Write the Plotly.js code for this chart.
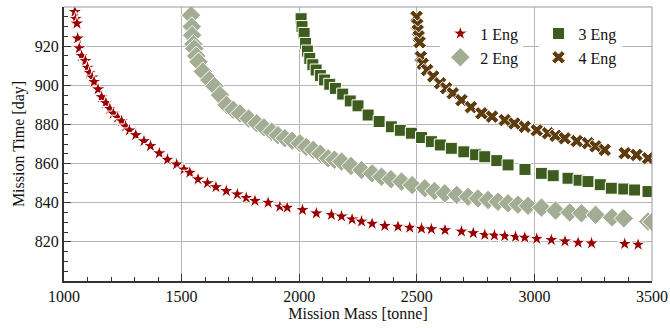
<!DOCTYPE html>
<html><head><meta charset="utf-8">
<script src="https://cdn.plot.ly/plotly-3.0.1.min.js"></script>
<style>html,body{margin:0;padding:0;background:#fff}#c{width:670px;height:328px}</style>
</head><body><div id="c"></div>
<script>
const seriesNames = ["1 Eng", "2 Eng", "3 Eng", "4 Eng"];

const eng1Mass = [1046,1050,1055,1058,1065,1075,1091,1100,1109,1120,1128,1145,1160,1178,1195,1210,1228,1245,1262,1278,1305,1340,1368,1405,1440,1479,1510,1535,1570,1610,1646,1690,1737,1775,1812,1868,1918,1949,2014,2073,2137,2180,2225,2265,2310,2364,2420,2470,2520,2562,2620,2690,2740,2789,2830,2874,2920,2959,3010,3072,3130,3186,3243,3384,3441];
const eng1Time = [937.5,934,931.6,924,919,915,912.5,909,906.4,904,901.8,898,894,891,888,885.6,883.5,881.7,879,877,874.6,871.5,869,865.3,862,859.6,857,855.4,852,850,848,846,844.3,842.5,841,840,838,837.5,836.3,834.6,833.8,833,831.5,830.4,829.3,828.2,827.8,827.3,826.8,826.5,826,825.3,824.5,823.6,823.3,823,822.6,822.2,821.6,821,820.3,819.6,819.3,819,818.6];

const eng2Mass = [1540,1543,1545,1550,1554,1562,1572,1590,1618,1640,1663,1691,1720,1748,1785,1819,1850,1883,1910,1939,1970,2003,2030,2060,2090,2123,2150,2180,2220,2265,2310,2350,2390,2435,2480,2534,2575,2619,2670,2718,2760,2803,2845,2888,2930,2973,3030,3090,3150,3200,3260,3330,3380,3483,3500];
const eng2Time = [935.8,930,925.6,921,918.8,915,912,907,902.7,899.5,895,890,887.5,885.6,883,880.6,878.5,876.3,874.5,873,871.7,870.4,868.5,867,865,862.7,862,861,858.8,856.7,855,853.3,852,850.8,849,847.4,846,844.8,844,843,842.2,841.4,840.5,839.7,839,838.4,837.5,836,835,834.6,833.8,832.5,832,830.4,830.2];

const eng3Mass = [2008,2012,2021,2027,2035,2045,2058,2072,2090,2108,2130,2154,2185,2217,2250,2293,2340,2392,2430,2477,2520,2562,2600,2647,2700,2750,2789,2840,2888,2960,3030,3080,3143,3190,3228,3280,3327,3380,3426,3483];
const eng3Time = [934,930,926.5,921.4,917.5,913.7,910.5,907.8,905,902.7,900.5,898.4,895.5,892,889.5,884.8,881.5,878.8,877,875.5,873.3,871.2,869.5,867.8,866,864.5,863.5,861.5,859.3,857,855,853.8,852.5,851.5,850.8,849.2,847.4,847,846.5,845.7];

const eng4Mass = [2499,2502,2504,2508,2512,2517,2525,2544,2570,2599,2625,2653,2690,2730,2775,2820,2874,2915,2959,3010,3058,3090,3129,3180,3228,3260,3299,3384,3434,3483];
const eng4Time = [935,931,928,925,922,914.5,911,907.8,904.5,901,898.5,895.9,892.4,888.8,885.7,884,882.2,880.5,878.8,877,875.5,874.2,872.9,871.5,870.4,868.8,867,865.3,864.4,862.7];

const xTicks = [1000,1500,2000,2500,3000,3500];
const yTicks = [820,840,860,880,900,920];

const font = "'Liberation Serif','Times New Roman',serif";
const mk = (sym, color, size) => ({symbol: sym, color: color, size: size, line: {color: '#ffffff', width: 1}});

const traces = [
  {x: eng1Mass, y: eng1Time, name: seriesNames[0], mode: 'markers', type: 'scatter', marker: mk('star', '#990000', 11), legend: 'legend'},
  {x: eng2Mass, y: eng2Time, name: seriesNames[1], mode: 'markers', type: 'scatter', marker: mk('diamond', '#a3ad93', 15), legend: 'legend'},
  {x: eng3Mass, y: eng3Time, name: seriesNames[2], mode: 'markers', type: 'scatter', marker: mk('square', '#3d5c1d', 12), legend: 'legend2'},
  {x: eng4Mass, y: eng4Time, name: seriesNames[3], mode: 'markers', type: 'scatter', marker: mk('x', '#5e3c10', 12), legend: 'legend2'}
];

const axisCommon = {
  showline: true, linecolor: '#333', linewidth: 2, mirror: false,
  ticks: 'inside', ticklen: 7, tickwidth: 1, tickcolor: '#333',
  showgrid: true, gridcolor: '#b5b5b5', gridwidth: 1, zeroline: false,
  tickfont: {family: font, size: 16, color: '#111'}
};

const legendFont = {family: font, size: 16, color: '#111'};

const layout = {
  width: 670, height: 328,
  margin: {l: 64, r: 18, t: 7, b: 47},
  paper_bgcolor: '#fff', plot_bgcolor: '#fff',
  font: {family: font, color: '#111'},
  showlegend: true,
  xaxis: Object.assign({}, axisCommon, {
    range: [1000, 3500], tickvals: xTicks, ticktext: xTicks.map(String),
    minor: {ticks: 'inside', ticklen: 4, tickcolor: '#333', dtick: 100, tick0: 1000, showgrid: false},
    title: {text: 'Mission Mass [tonne]', font: {family: font, size: 16, color: '#111'}, standoff: 2}
  }),
  yaxis: Object.assign({}, axisCommon, {
    range: [800, 940], tickvals: yTicks, ticktext: yTicks.map(String),
    minor: {ticks: 'inside', ticklen: 4, tickcolor: '#333', dtick: 5, tick0: 800, showgrid: false},
    title: {text: 'Mission Time [day]', font: {family: font, size: 16, color: '#111'}, standoff: 6}
  }),
  legend: {x: 0.64, y: 0.965, xanchor: 'left', yanchor: 'top', bgcolor: '#fff', borderwidth: 0,
           font: legendFont, tracegroupgap: 0, itemwidth: 30},
  legend2: {x: 0.807, y: 0.965, xanchor: 'left', yanchor: 'top', bgcolor: '#fff', borderwidth: 0,
           font: legendFont, tracegroupgap: 0, itemwidth: 30},
  shapes: [
    {type: 'line', xref: 'paper', yref: 'paper', x0: 0, x1: 1, y0: 1, y1: 1, line: {color: '#999', width: 1}},
    {type: 'line', xref: 'paper', yref: 'paper', x0: 1, x1: 1, y0: 0, y1: 1, line: {color: '#999', width: 1}}
  ]
};

Plotly.newPlot('c', traces, layout, {displayModeBar: false, staticPlot: true});
</script></body></html>
